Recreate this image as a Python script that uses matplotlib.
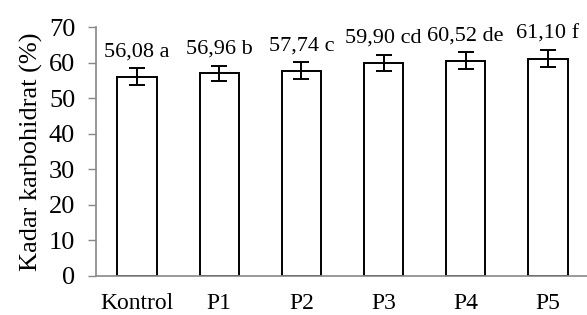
import matplotlib
matplotlib.use('Agg')
import matplotlib.pyplot as plt

categories = ['Kontrol', 'P1', 'P2', 'P3', 'P4', 'P5']
values = [56.08, 56.96, 57.74, 59.90, 60.52, 61.10]
errors = [2.3, 2.2, 2.3, 2.3, 2.4, 2.4]
labels = ['56,08 a', '56,96 b', '57,74 c', '59,90 cd', '60,52 de', '61,10 f']

plt.rcParams['font.family'] = ['Liberation Serif', 'DejaVu Serif']

fig = plt.figure(figsize=(5.87, 3.15), dpi=100)
ax = fig.add_axes([96 / 587, 39 / 315, 493 / 587, 249 / 315])

x = range(len(categories))
ax.bar(x, values, width=0.48, color='white', edgecolor='black', linewidth=1.4,
       yerr=errors, capsize=6, error_kw={'elinewidth': 1.4, 'capthick': 1.4, 'ecolor': 'black'})

for i, (v, e, lab) in enumerate(zip(values, errors, labels)):
    ax.annotate(lab, (i, v + e), xytext=(0, 5), textcoords='offset points',
                ha='center', va='bottom', fontsize=16)

ax.set_xlim(-0.5, len(categories) - 0.5)
ax.set_ylim(0, 70)
ax.set_yticks(range(0, 71, 10))
ax.set_xticks(list(x))
ax.set_xticklabels(categories, fontsize=17)
ax.tick_params(axis='y', labelsize=19, color='#888888', length=6, width=1, pad=9)
ax.tick_params(axis='x', length=0, pad=12)
ax.set_ylabel('Kadar karbohidrat (%)', fontsize=19, labelpad=4)

for s in ['top', 'right']:
    ax.spines[s].set_visible(False)
for s in ['left', 'bottom']:
    ax.spines[s].set_color('#888888')
    ax.spines[s].set_linewidth(1.2)

fig.savefig('out.png', dpi=100)
